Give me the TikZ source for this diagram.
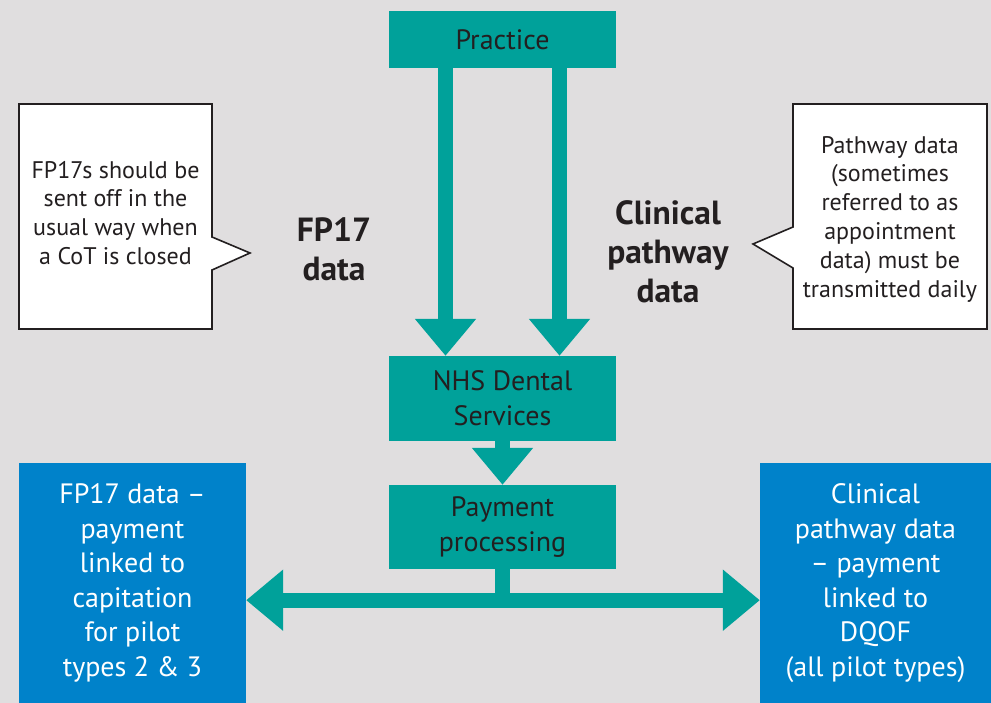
\documentclass[tikz,border=0pt]{standalone}
\usepackage{fontspec}
\setmainfont{PT Sans}
\usepackage{tikz}
\usetikzlibrary{calc,arrows.meta}

\definecolor{bgrey}{RGB}{224,222,223}
\definecolor{nhsteal}{RGB}{0,161,154}
\definecolor{nhsblue}{RGB}{0,130,202}
\definecolor{inkdark}{RGB}{35,31,32}

\tikzset{
  tealbox/.style={fill=nhsteal,text=inkdark,align=center,minimum width=227pt,inner sep=0pt,
    font=\fontsize{28}{35}\selectfont},
  bluebox/.style={fill=nhsblue,text=white,align=center,inner sep=0pt,
    font=\fontsize{28}{34.5}\selectfont},
  note/.style={text=inkdark,align=center,inner sep=0pt,font=\fontsize{24}{28.8}\selectfont},
  biglabel/.style={text=inkdark,align=center,inner sep=0pt,font=\bfseries\fontsize{33.5}{39}\selectfont},
  flow/.style={nhsteal,line width=15pt,-{Triangle[width=59pt,length=37pt]}},
  shaft/.style={nhsteal,line width=15pt}
}

\begin{document}
\begin{tikzpicture}[x=1pt,y=-1pt]
\useasboundingbox (0,0) rectangle (991,703);
\fill[bgrey](0,0) rectangle (991,703);
% boxes down the middle
\node[tealbox,minimum height=57pt] (prac) at (502.5,39.5) {Practice};
\node[tealbox,minimum height=85pt] (nhs) at (502.5,398.5) {NHS Dental\\Services};
\node[tealbox,minimum height=84pt] (pay) at (502.5,527) {Payment\\processing};
% payment boxes
\node[bluebox,minimum width=227pt,minimum height=240pt] (lft) at (132.5,583) {FP17 data --\\payment\\linked to\\capitation\\for pilot\\types 2 \& 3};
\node[bluebox,minimum width=231pt,minimum height=240pt] (rgt) at (875.5,583) {Clinical\\pathway data\\-- payment\\linked to\\DQOF\\(all pilot types)};
% arrows
\draw[flow]([xshift=-57pt]prac.south)--([xshift=-57pt]nhs.north);
\draw[flow]([xshift=57pt]prac.south)--([xshift=57pt]nhs.north);
\draw[flow](nhs.south)--(pay.north);
\coordinate (split) at ([yshift=-31pt]pay.south);
\draw[shaft](pay.south)--(split);
\draw[flow,{Triangle[width=59pt,length=37pt]}-{Triangle[width=59pt,length=37pt]}](lft.east |- split)--(rgt.west |- split);
% labels
\node[biglabel] (fplab) at (334,249) {FP17\\data};
\node[biglabel] (cplab) at (668,252) {Clinical\\pathway\\data};
% callouts
\filldraw[fill=white,draw=inkdark,line width=1.6pt](19,104)--(212,104)--(212,237)--(250,253)--(212,270)--(212,329)--(19,329)--cycle;
\filldraw[fill=white,draw=inkdark,line width=1.6pt](793,104)--(987,104)--(987,329)--(793,329)--(793,268)--(753,244)--(793,227)--cycle;
\node[note] (fpnote) at (115.5,213) {FP17s should be\\sent off in the\\usual way when\\a CoT is closed};
\node[note] (cpnote) at (890,219) {Pathway data\\(sometimes\\referred to as\\appointment\\data) must be\\transmitted daily};
\end{tikzpicture}
\end{document}
